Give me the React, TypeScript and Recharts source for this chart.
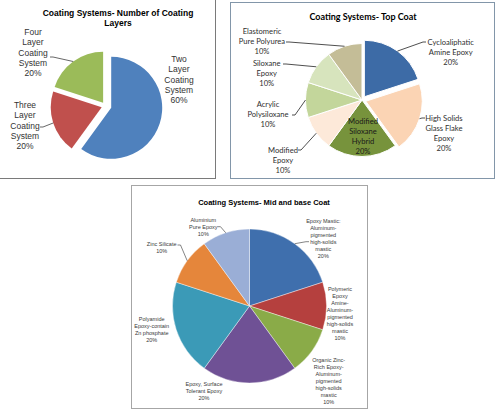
import React from 'react';
import { PieChart, Pie, Cell } from 'recharts';

// ---- data ----
const layerCats = ['Two\nLayer\nCoating\nSystem', 'Three\nLayer\nCoating\nSystem', 'Four\nLayer\nCoating\nSystem'];
const layerValues = [60, 20, 20];

const topCats = [
  'Cycloaliphatic\nAmine Epoxy',
  'High Solids\nGlass Flake\nEpoxy',
  'Modified\nSiloxane\nHybrid',
  'Modified\nEpoxy',
  'Acrylic\nPolysiloxane',
  'Siloxane\nEpoxy',
  'Elastomeric\nPure Polyurea',
];
const topValues = [20, 20, 20, 10, 10, 10, 10];

const midCats = [
  'Epoxy Mastic:\nAluminum-\npigmented\nhigh-solids\nmastic',
  'Polymeric\nEpoxy\nAmine-\nAluminum-\npigmented\nhigh-solids\nmastic',
  'Organic Zinc-\nRich Epoxy-\nAluminum-\npigmented\nhigh-solids\nmastic',
  'Epoxy, Surface\nTolerant Epoxy',
  'Polyamide\nEpoxy-contain\nZn phosphate',
  'Zinc Silicate',
  'Aluminium\nPure Epoxy',
];
const midValues = [20, 10, 10, 20, 20, 10, 10];

// ---- styles ----
const ARIAL = '"Liberation Sans", Arial, sans-serif';
const CALIBRI = 'Lato, "Liberation Sans", sans-serif';

const layerColors = ['#4f81bd', '#c0504d', '#9bbb59'];
const topColors = ['#3d6ba6', '#fbd4b4', '#77933c', '#fde9d9', '#c3d69b', '#d7e4bd', '#c4bd97'];
const midColors = ['#3f6fad', '#b5403e', '#8aab48', '#6f5195', '#3b9ab7', '#e5863b', '#9aaed6'];

type LabelSpec = { dx: number; dy: number; lead?: [number, number] };

// label block centres / leader starts, relative to the pie centre
const layerLabels: LabelSpec[] = [
  { dx: 73.5, dy: -26.5 },
  { dx: -80.5, dy: 19.5, lead: [-65.5, 21] },
  { dx: -72.5, dy: -53.5, lead: [-55.5, -49] },
];
const topLabels: LabelSpec[] = [
  { dx: 88.7, dy: -48.3, lead: [64, -58] },
  { dx: 82, dy: 32.5, lead: [63, 18] },
  { dx: 1, dy: 36.3 },
  { dx: -79, dy: 60, lead: [-64, 50] },
  { dx: -94, dy: 14, lead: [-70, 15] },
  { dx: -95.3, dy: -27.3, lead: [-79, -36] },
  { dx: -100, dy: -58.7, lead: [-76, -58] },
];
const midLabels: LabelSpec[] = [
  { dx: 73.8, dy: -67.5, lead: [59.5, -64.3] },
  { dx: 90.5, dy: 7.5 },
  { dx: 79.2, dy: 75 },
  { dx: -45.5, dy: 84.6 },
  { dx: -97.8, dy: 23.5 },
  { dx: -87.8, dy: -58.1, lead: [-72, -61] },
  { dx: -46.2, dy: -79, lead: [-32, -79.3] },
];

type TextStyle = { font: string; size: number; lh: number; color: string; line: string; lineW: number };

const RAD = Math.PI / 180;

function drawLabel(
  p: any,
  cat: string,
  pct: string,
  spec: LabelSpec,
  cx0: number,
  cy0: number,
  st: TextStyle,
  key: string
) {
  const lines = [...cat.split('\n'), pct];
  const tx = cx0 + spec.dx;
  const ty = cy0 + spec.dy;
  const top = ty - ((lines.length - 1) * st.lh) / 2;
  let leader = null;
  if (spec.lead) {
    const ex = p.cx + p.outerRadius * Math.cos(-p.midAngle * RAD);
    const ey = p.cy + p.outerRadius * Math.sin(-p.midAngle * RAD);
    const sx = cx0 + spec.lead[0];
    const sy = cy0 + spec.lead[1];
    const stub = sx + (ex > sx ? 3 : -3);
    leader = (
      <polyline
        points={`${sx},${sy} ${stub},${sy} ${ex},${ey}`}
        fill="none"
        stroke={st.line}
        strokeWidth={st.lineW}
      />
    );
  }
  return (
    <g key={key}>
      {leader}
      {lines.map((ln, j) => (
        <text
          key={j}
          x={tx}
          y={top + j * st.lh}
          textAnchor="middle"
          dominantBaseline="central"
          fontFamily={st.font}
          fontSize={st.size}
          fill={st.color}
        >
          {ln}
        </text>
      ))}
    </g>
  );
}

// one Pie per slice so each slice can be pulled out (Excel "explode")
function explodedPies(
  id: string,
  cats: string[],
  values: number[],
  colors: string[],
  explode: number[],
  labels: LabelSpec[],
  cx0: number,
  cy0: number,
  r: number,
  stroke: string,
  st: TextStyle,
  insideColor?: string
) {
  const total = values.reduce((a, b) => a + b, 0);
  let acc = 0;
  return values.map((v, i) => {
    const a0 = acc / total;
    acc += v;
    const a1 = acc / total;
    const mid = ((a0 + a1) / 2) * 360 * RAD;
    const pcx = cx0 + explode[i] * Math.sin(mid);
    const pcy = cy0 - explode[i] * Math.cos(mid);
    const pct = `${Math.round((v / total) * 100)}%`;
    const spec = labels[i];
    const tst = !spec.lead && insideColor && i === 2 ? { ...st, color: insideColor } : st;
    return (
      <Pie
        key={`${id}-${i}`}
        data={[{ name: cats[i], value: v }]}
        dataKey="value"
        nameKey="name"
        cx={pcx}
        cy={pcy}
        outerRadius={r}
        startAngle={90 - 360 * a0}
        endAngle={90 - 360 * a1}
        stroke={stroke}
        strokeWidth={stroke === 'none' ? 0 : 1}
        isAnimationActive={false}
        labelLine={false}
        label={(p: any) => drawLabel(p, cats[i], pct, spec, cx0, cy0, tst, `${id}-l${i}`)}
      >
        <Cell fill={colors[i]} />
      </Pie>
    );
  });
}

const noMargin = { top: 0, right: 0, bottom: 0, left: 0 };

export default function App() {
  const midTotal = midValues.reduce((a, b) => a + b, 0);
  const midStyle: TextStyle = { font: ARIAL, size: 5.5, lh: 7, color: '#3a3a3a', line: '#333', lineW: 0.6 };

  return (
    <div style={{ position: 'absolute', left: 0, top: 0, width: 496, height: 409, background: '#fff', overflow: 'hidden' }}>
      {/* chart 1 */}
      <div style={{ position: 'absolute', left: -2, top: -2, width: 218, height: 181, boxSizing: 'border-box', border: '1.5px solid #7a7a7a' }} />
      <div style={{ position: 'absolute', left: 0, top: 0 }}>
        <PieChart width={214} height={177} margin={noMargin}>
          {explodedPies('layers', layerCats, layerValues, layerColors, [6, 4, 4], layerLabels, 105.5, 106, 51, 'none',
            { font: ARIAL, size: 8.5, lh: 10.3, color: '#333', line: '#404040', lineW: 0.8 })}
        </PieChart>
      </div>
      <div style={{ position: 'absolute', left: 18, top: 8, width: 200, textAlign: 'center', fontFamily: ARIAL, fontWeight: 'bold', fontSize: 8.5, lineHeight: '10px', color: '#000' }}>
        Coating Systems- Number of Coating<br />Layers
      </div>

      {/* chart 2 */}
      <div style={{ position: 'absolute', left: 230, top: 2, width: 265, height: 177, boxSizing: 'border-box', border: '1.5px solid #8296a9' }} />
      <div style={{ position: 'absolute', left: 231, top: 0 }}>
        <PieChart width={262} height={177} margin={noMargin}>
          {explodedPies('top', topCats, topValues, topColors, [4, 4, 0, 0, 0, 0, 0], topLabels, 131, 100, 56.5, '#ffffff',
            { font: CALIBRI, size: 7.6, lh: 10, color: '#303030', line: '#222', lineW: 0.8 }, '#1a1a1a')}
        </PieChart>
      </div>
      <div style={{ position: 'absolute', left: 263, top: 11, width: 200, textAlign: 'center', fontFamily: CALIBRI, fontWeight: 'bold', fontSize: 9, lineHeight: '12px', color: '#000' }}>
        Coating Systems- Top Coat
      </div>

      {/* chart 3 */}
      <div style={{ position: 'absolute', left: 131, top: 185, width: 237, height: 224, boxSizing: 'border-box', border: '1px solid #a6a6a6' }} />
      <div style={{ position: 'absolute', left: 132, top: 186 }}>
        <PieChart width={234} height={221} margin={noMargin}>
          <Pie
            data={midCats.map((c, i) => ({ name: c, value: midValues[i] }))}
            dataKey="value"
            nameKey="name"
            cx={117.5}
            cy={120}
            outerRadius={77}
            startAngle={90}
            endAngle={-270}
            stroke="#ffffff"
            strokeWidth={0.4}
            isAnimationActive={false}
            labelLine={false}
            label={(p: any) =>
              drawLabel(p, midCats[p.index], `${Math.round((midValues[p.index] / midTotal) * 100)}%`, midLabels[p.index], 117.5, 120, midStyle, `mid-${p.index}`)
            }
          >
            {midColors.map((c, i) => (
              <Cell key={i} fill={c} />
            ))}
          </Pie>
        </PieChart>
      </div>
      <div style={{ position: 'absolute', left: 164, top: 198, width: 200, textAlign: 'center', fontFamily: ARIAL, fontWeight: 'bold', fontSize: 7.5, lineHeight: '9px', color: '#000' }}>
        Coating Systems- Mid and base Coat
      </div>
    </div>
  );
}
